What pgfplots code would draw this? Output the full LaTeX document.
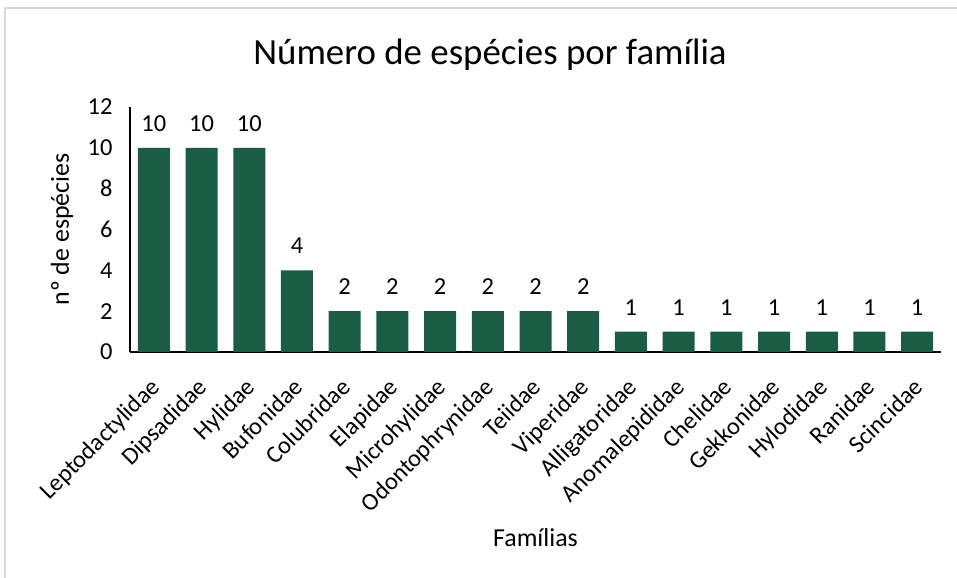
\documentclass[border=0pt]{standalone}
\usepackage{fontspec}
\setmainfont{Carlito}
\usepackage{pgfplots}
\pgfplotsset{compat=1.18}
\definecolor{barg}{RGB}{27,92,68}
\definecolor{frame}{RGB}{217,217,217}
\begin{document}
\begin{tikzpicture}[x=1bp,y=1bp]
\useasboundingbox (0,0) rectangle (957,578);
\draw[frame,line width=1.2bp] (5,-10) rectangle (970,570);
\node[font=\fontsize{37}{42}\selectfont] at (490,523) {Número de espécies por família};
\begin{axis}[
  at={(130bp,226bp)}, anchor=south west,
  scale only axis, width=811bp, height=245bp,
  ybar, bar width=32bp,
  ymin=0, ymax=12, ytick={0,2,...,12},
  xmin=-0.5, xmax=16.5,
  xtick={0,...,16},
  xticklabels={Leptodactylidae,Dipsadidae,Hylidae,Bufonidae,Colubridae,Elapidae,Microhylidae,Odontophrynidae,Teiidae,Viperidae,Alligatoridae,Anomalepididae,Chelidae,Gekkonidae,Hylodidae,Ranidae,Scincidae},
  axis x line*=bottom, axis y line*=left,
  x axis line style={-, line width=1.2bp, black},
  y axis line style={-, line width=1.2bp, black},
  major tick length=0pt,
  /pgf/number format/assume math mode=true,
  ticklabel style={font=\fontsize{24.5}{28}\selectfont},
  xticklabel style={rotate=45, anchor=north east, inner sep=0pt, xshift=-21bp, yshift=-14bp},
  yticklabel style={xshift=-14bp},
  xlabel={Famílias}, ylabel={nº de espécies},
  label style={font=\fontsize{26}{30}\selectfont},
  xlabel style={at={(axis description cs:0.5,0)}, anchor=center, yshift=-186bp, xshift=0bp},
  ylabel style={at={(axis description cs:0,0.5)}, anchor=center, xshift=0bp, yshift=68bp},
  nodes near coords,
  every node near coord/.append style={font=\fontsize{24.5}{28}\selectfont, yshift=13bp},
  clip=false,
]
\addplot[fill=barg, draw=none] coordinates {
(0,10) (1,10) (2,10) (3,4) (4,2) (5,2) (6,2) (7,2) (8,2) (9,2)
(10,1) (11,1) (12,1) (13,1) (14,1) (15,1) (16,1)};
\end{axis}
\end{tikzpicture}
\end{document}
